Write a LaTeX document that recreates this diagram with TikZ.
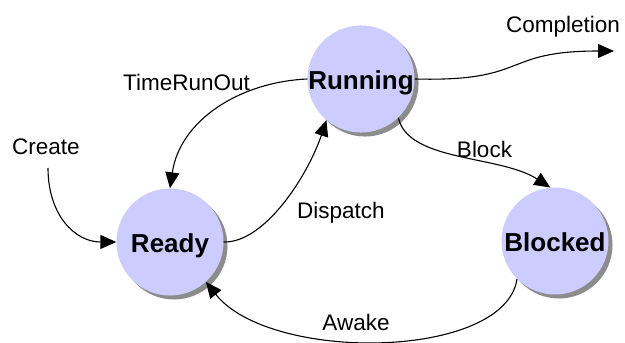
\documentclass[tikz,border=0pt]{standalone}
\usepackage{fontspec}
\setmainfont{Liberation Sans}
\usetikzlibrary{arrows.meta,shadows}
\definecolor{statefill}{RGB}{204,204,255}
\definecolor{stateshadow}{RGB}{140,140,140}
\begin{document}
\begin{tikzpicture}[x=1pt,y=-1pt,
  state/.style={circle, fill=statefill, minimum size=107pt, inner sep=0pt,
    text height=21pt, text depth=0pt,
    font=\fontsize{26}{28}\selectfont\bfseries,
    drop shadow={shadow xshift=4pt, shadow yshift=-4pt, fill=stateshadow, opacity=1}},
  lbl/.style={anchor=base, inner sep=0pt, font=\fontsize{22.5}{26}\selectfont},
  trans/.style={draw=black, line width=1.1pt, -{Triangle[length=16pt,width=14pt]}}]
  \useasboundingbox (0,0) rectangle (625,343);

  % states
  \node[state] (running) at (361,79) {Running};
  \node[state] (ready)   at (170,242) {Ready};
  \node[state] (blocked) at (555,241) {Blocked};

  % transition labels
  \node[lbl] (lTime)  at (186.5,90) {TimeRunOut};
  \node[lbl] (lCreate) at (46,154) {Create};
  \node[lbl] (lComp)  at (563,32) {Completion};
  \node[lbl] (lBlock) at (484.5,157) {Block};
  \node[lbl] (lDisp)  at (341,218) {Dispatch};
  \node[lbl] (lAwake) at (356,330) {Awake};

  % free ends
  \coordinate (createStart) at (48,168);
  \coordinate (compEnd) at (614,51);

  % transitions
  \draw[trans] (running.west) .. controls (240,82) and (180,120) .. (ready.north);
  \draw[trans] (createStart) .. controls (48,215) and (75,242) .. (ready.west);
  \draw[trans] (ready.east) .. controls (265,243) and (308,175) .. (running.230);
  \draw[trans] (running.-46) .. controls (408,162) and (500,155) .. (blocked.95);
  \draw[trans] (running.east) .. controls (530,82) and (500,51) .. (compEnd);
  \draw[trans] (blocked.225) .. controls (505,360) and (270,363) .. (ready.-48);
\end{tikzpicture}
\end{document}
